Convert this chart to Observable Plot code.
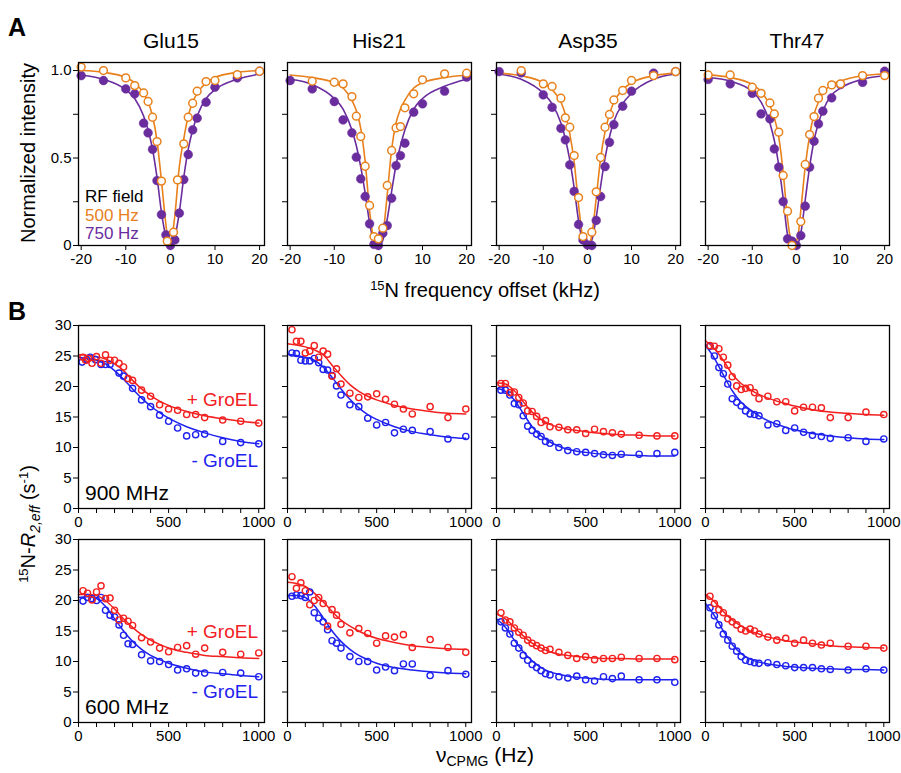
<!DOCTYPE html>
<html><head><meta charset="utf-8">
<script src="https://cdn.jsdelivr.net/npm/d3@7"></script>
<script src="https://cdn.jsdelivr.net/npm/@observablehq/plot@0.6"></script>
<style>
body{margin:0;background:#fff;}
#root{position:relative;width:901px;height:773px;overflow:hidden;background:#fff;font-family:"Liberation Sans",Arial,Helvetica,sans-serif;}
#root svg{overflow:visible;}
</style></head><body><div id="root"></div>
<script>
// ---------------- DATA ----------------
const residues = ["Glu15", "His21", "Asp35", "Thr47"];
const rfLabels = ["500 Hz", "750 Hz"];
const fieldLabels = ["900 MHz", "600 MHz"];
const cestTicks = [-20, -10, 0, 10, 20];
const intensityTicks = [0, 0.25, 0.5, 0.75, 1];
const cpmgTicks = [0,100,200,300,400,500,600,700,800,900,1000];
const r2Ticks = [0, 5, 10, 15, 20, 25, 30];

// Panel A: CEST profiles (offset kHz, normalized intensity)
const glu15_500_x = [-20,-15,-10,-8,-6,-5,-4,-3,-2,-0.7,0.7,1.6,3,4,5,6,8,10,15,20];
const glu15_500_y = [1.02,1.0,0.958,0.914,0.872,0.823,0.733,0.594,0.368,0.025,0.076,0.375,0.581,0.733,0.813,0.882,0.937,0.943,0.977,0.996];
const glu15_750_x = [-20,-15,-10,-8,-6,-5,-4,-3,-2,-1,0,1,2,3,4,5,6,8,10,15,20];
const glu15_750_y = [0.971,0.943,0.895,0.867,0.699,0.644,0.55,0.371,0.177,0.061,0,0.032,0.185,0.377,0.52,0.661,0.728,0.819,0.905,0.958,0.996];
const his21_500_x = [-15,-10,-8,-6,-5,-4,-3,-2,-1,0,1,2,3,4,5,6,8,10,15,20];
const his21_500_y = [0.939,0.933,0.924,0.851,0.739,0.623,0.453,0.229,0.051,0.038,0.099,0.343,0.543,0.672,0.68,0.787,0.867,0.947,0.981,0.985];
const his21_750_x = [-20,-15,-10,-8,-6,-5,-4,-3,-2,-1,0,1,2,3,4,5,6,8,10,15,20];
const his21_750_y = [0.943,0.895,0.823,0.718,0.644,0.505,0.381,0.28,0.124,0.006,0,0.07,0.114,0.27,0.457,0.514,0.585,0.762,0.81,0.882,0.962];
const asp35_500_x = [-15,-10,-8,-6,-5,-4,-3,-2,-1,1,2,3,4,5,6,8,10,15,20];
const asp35_500_y = [1.0,0.924,0.909,0.842,0.73,0.676,0.514,0.274,0.051,0.076,0.307,0.503,0.676,0.749,0.832,0.886,0.943,0.971,0.994];
const asp35_750_x = [-20,-15,-10,-8,-6,-5,-4,-3,-2,-1,0,1,2,3,4,5,6,8,10,15,20];
const asp35_750_y = [0.994,0.987,0.861,0.79,0.67,0.604,0.461,0.309,0.12,0.032,0.004,0,0.143,0.28,0.451,0.59,0.691,0.796,0.882,0.985,0.994];
const thr47_500_x = [-20,-15,-10,-8,-6,-5,-4,-3,-2,-1,1,2,3,4,5,6,8,10,15,20];
const thr47_500_y = [0.975,0.975,0.905,0.87,0.815,0.752,0.648,0.4,0.196,0,0.137,0.463,0.634,0.737,0.842,0.886,0.918,0.924,0.971,0.971];
const thr47_750_x = [-20,-15,-10,-8,-6,-5,-4,-3,-2,-1,0,1,2,3,4,5,6,8,10,15,20];
const thr47_750_y = [0.949,0.924,0.87,0.752,0.724,0.552,0.448,0.251,0.038,0.025,0,0.057,0.225,0.448,0.596,0.695,0.768,0.844,0.92,0.933,0.996];

// fitted curves, read at these offsets
const cestFitX = [-20,-15,-10,-8,-6,-5,-4,-3,-2,-1,-0.5,0,0.5,1,2,3,4,5,6,8,10,15,20];
const glu15_500_fit = [1.0,0.99,0.96,0.93,0.87,0.82,0.74,0.6,0.37,0.12,0.03,0.02,0.07,0.17,0.45,0.61,0.74,0.82,0.87,0.93,0.96,0.99,1.0];
const glu15_750_fit = [0.975,0.95,0.89,0.84,0.74,0.66,0.55,0.39,0.19,0.05,0.015,0,0.015,0.05,0.19,0.39,0.55,0.66,0.74,0.84,0.89,0.95,0.98];
const his21_500_fit = [0.975,0.96,0.93,0.9,0.83,0.77,0.67,0.48,0.2,0.03,0.01,0,0.02,0.06,0.29,0.55,0.7,0.78,0.83,0.9,0.93,0.96,0.975];
const his21_750_fit = [0.95,0.92,0.84,0.78,0.66,0.57,0.45,0.3,0.13,0.02,0.005,0,0.005,0.03,0.15,0.31,0.46,0.57,0.66,0.78,0.84,0.91,0.95];
const asp35_500_fit = [0.985,0.97,0.93,0.89,0.82,0.75,0.64,0.48,0.23,0.04,0.01,0,0.01,0.06,0.27,0.5,0.65,0.75,0.82,0.89,0.93,0.97,0.985];
const asp35_750_fit = [0.98,0.95,0.87,0.81,0.7,0.61,0.49,0.33,0.14,0.02,0.005,0,0.005,0.03,0.16,0.34,0.5,0.62,0.71,0.81,0.87,0.95,0.98];
const thr47_500_fit = [0.975,0.96,0.92,0.88,0.8,0.73,0.62,0.42,0.15,0.01,0,0.02,0.08,0.2,0.45,0.63,0.75,0.82,0.87,0.92,0.94,0.97,0.98];
const thr47_750_fit = [0.96,0.94,0.88,0.82,0.7,0.6,0.46,0.27,0.06,0,0,0,0.02,0.07,0.26,0.45,0.6,0.7,0.77,0.86,0.9,0.95,0.97];

// Panel B: CPMG dispersion (nu_CPMG Hz, R2,eff s^-1)
const cpmgX = [25,50,75,100,125,150,175,200,225,250,275,300,350,400,450,500,550,600,650,700,800,900,1000];
const glu15_900_plus_x = [25,40,55,75,100,125,150,175,200,225,250,275,300,350,400,450,500,550,600,650,700,800,900,1000];
const glu15_900_plus = [24.8,24.3,24.6,23.8,24.9,23.8,25.2,24.3,24.3,23.8,23.2,21.3,21.0,19.4,18.4,17.0,16.3,16.1,15.4,15.4,14.9,14.5,14.3,14.0];
const glu15_900_minus_x = [20,45,65,95,125,150,175,225,250,300,350,400,450,500,550,600,650,700,800,900,1000];
const glu15_900_minus = [24.0,24.4,24.8,24.4,23.6,23.6,23.6,22.2,21.7,19.7,17.8,16.7,15.3,14.3,13.2,11.9,12.1,12.2,11.0,10.8,10.6];
const his21_900_plus = [29.3,27.4,27.4,25.5,25.8,26.7,24.8,25.8,25.3,21.7,22.9,20.4,18.9,18.2,18.3,18.8,17.9,17.1,16.3,15.5,16.7,14.9,16.3];
const his21_900_minus = [25.5,25.4,24.3,24.2,24.2,24.6,23.9,22.8,22.7,21.8,20.1,18.6,17.0,16.7,14.8,13.7,14.1,12.4,13.0,12.8,12.6,11.4,11.8];
const asp35_900_plus = [20.5,20.5,19.0,19.1,18.2,17.3,16.0,15.9,15.1,14.1,14.4,13.4,13.3,12.9,12.9,12.3,13.0,12.6,12.4,12.2,12.0,11.9,11.9];
const asp35_900_minus = [19.4,19.4,18.6,17.2,17.0,15.2,13.5,12.8,12.2,11.8,11.0,10.7,10.0,9.5,9.3,9.2,9.0,8.8,8.7,8.9,8.9,9.0,9.2];
const thr47_900_plus = [26.7,26.6,26.2,24.8,23.5,21.6,20.1,19.5,19.7,19.8,19.0,18.0,18.4,17.5,17.5,16.0,16.6,16.6,16.5,14.9,14.9,15.8,15.4];
const thr47_900_minus = [26.6,25.0,23.1,22.1,20.4,18.0,17.4,16.8,16.0,15.5,15.4,15.2,13.7,13.9,12.8,13.2,12.5,12.0,11.8,11.5,11.6,11.0,11.4];
const glu15_600_plus = [21.6,21.2,20.1,21.4,22.4,20.3,20.4,18.4,16.8,17.1,16.6,15.9,13.9,13.2,12.2,11.6,12.3,12.6,11.2,12.2,11.5,11.2,11.4];
const glu15_600_minus = [19.9,20.5,20.3,20.0,20.5,18.4,17.6,17.3,16.0,14.3,12.9,12.8,11.1,10.1,10.0,9.5,8.6,8.8,8.1,8.1,8.2,8.1,7.5];
const his21_600_plus = [23.9,22.0,22.9,21.6,19.3,20.0,20.5,19.5,15.8,18.5,17.6,16.1,14.7,15.4,14.6,13.0,14.2,14.0,14.4,12.3,13.6,12.3,11.5];
const his21_600_minus = [20.7,20.9,20.8,20.5,21.4,18.0,17.1,16.5,15.2,13.4,13.0,12.2,10.8,10.0,10.0,8.6,9.1,8.5,9.6,9.6,7.7,8.5,7.9];
const asp35_600_plus = [18.0,16.8,16.5,15.5,14.8,14.3,13.5,13.0,12.6,12.2,11.8,12.0,11.5,11.0,10.5,10.8,10.3,10.5,10.5,10.7,10.5,10.5,10.3];
const asp35_600_minus = [16.5,15.5,14.5,13.0,12.2,11.0,10.2,9.5,9.0,8.5,8.0,7.8,7.5,7.3,7.6,7.0,6.8,7.5,7.2,7.6,7.0,7.0,6.6];
const thr47_600_plus = [20.7,19.5,18.5,18.0,17.0,16.5,16.0,15.3,15.0,15.3,15.0,14.5,14.0,13.5,13.8,13.0,13.5,13.0,12.7,13.0,12.5,12.5,12.2];
const thr47_600_minus = [18.8,17.5,16.0,14.5,13.5,12.5,11.7,10.8,10.2,10.0,9.8,9.7,9.8,9.5,9.3,9.0,9.0,9.0,8.8,8.7,8.6,8.8,8.6];

// fitted curves, read at these frequencies
const cpmgFitX = [0,50,100,150,200,250,300,350,400,450,500,600,700,800,900,1000];
const glu15_900_plus_fit = [25.2,25.1,24.9,24.5,23.7,22.6,21.0,19.6,18.5,17.6,16.9,15.9,15.2,14.7,14.3,14.0];
const glu15_900_minus_fit = [24.8,24.6,24.3,23.7,22.6,21.2,19.6,18.1,16.8,15.7,14.8,13.4,12.4,11.6,11.0,10.6];
const his21_900_plus_fit = [27.0,26.8,26.5,26.0,25.2,23.5,21.8,20.3,19.2,18.4,17.8,16.9,16.3,15.9,15.6,15.5];
const his21_900_minus_fit = [25.3,25.1,24.8,24.3,23.2,21.5,19.6,17.9,16.5,15.4,14.6,13.4,12.6,12.1,11.7,11.5];
const asp35_900_plus_fit = [20.6,20.4,19.3,17.5,15.8,14.6,13.8,13.3,13.0,12.8,12.6,12.3,12.1,12.0,11.9,11.9];
const asp35_900_minus_fit = [19.7,19.2,17.8,15.6,13.4,11.9,10.9,10.2,9.7,9.4,9.2,8.9,8.8,8.7,8.6,8.6];
const thr47_900_plus_fit = [27.5,26.2,24.3,22.0,20.5,19.5,18.7,18.1,17.6,17.2,16.8,16.2,15.8,15.6,15.4,15.3];
const thr47_900_minus_fit = [26.8,24.6,21.9,19.3,17.4,16.2,15.2,14.4,13.8,13.3,12.9,12.3,11.9,11.6,11.4,11.3];
const glu15_600_plus_fit = [21.0,21.0,20.8,20.0,18.6,17.0,15.6,14.4,13.5,12.8,12.2,11.5,11.0,10.8,10.6,10.5];
const glu15_600_minus_fit = [20.5,20.6,20.3,19.0,17.0,15.0,13.3,12.0,11.0,10.3,9.7,8.9,8.3,8.0,7.7,7.5];
const his21_600_plus_fit = [23.0,22.8,22.3,21.2,19.8,18.2,16.8,15.8,15.0,14.3,13.8,13.1,12.6,12.3,12.1,12.0];
const his21_600_minus_fit = [20.8,20.8,20.5,19.2,17.2,15.0,13.3,12.0,11.0,10.3,9.7,9.0,8.6,8.3,8.1,8.0];
const asp35_600_plus_fit = [17.8,17.0,15.6,14.2,13.0,12.2,11.6,11.2,11.0,10.8,10.7,10.5,10.5,10.4,10.4,10.4];
const asp35_600_minus_fit = [17.0,15.6,13.5,11.6,10.1,9.0,8.3,7.9,7.6,7.4,7.3,7.1,7.0,7.0,7.0,7.0];
const thr47_600_plus_fit = [21.0,19.8,18.2,16.8,15.8,15.0,14.5,14.0,13.7,13.4,13.2,12.9,12.6,12.4,12.3,12.2];
const thr47_600_minus_fit = [19.5,17.5,15.0,12.8,11.3,10.4,9.9,9.6,9.4,9.2,9.1,8.9,8.8,8.7,8.7,8.6];

// ---------------- STYLE / LAYOUT ----------------
const ORANGE = "#E8801C", PURPLE = "#6A2D9E", RED = "#F2201F", BLUE = "#1F22EE";
const FONT = '"Liberation Sans", Arial, Helvetica, sans-serif';
const cols = [[78, 264], [287, 471], [496, 680], [705, 889]];
const rowA = [62, 245], rowB1 = [325, 508], rowB2 = [539, 722];
// label heights (in panel fraction from bottom) for "+ GroEL" / "- GroEL"
const groelLabelPos = [[0.597, 0.263], [0.497, 0.170]];
const root = document.getElementById("root");

const rows = (xs, ys) => xs.map((x, i) => ({x, y: ys[i]}));

function panel({col, row, xDomain, yDomain, xTicks, xFmt, yTicks, yFmt, marks}) {
  const [l, r] = cols[col], [t, b] = row;
  const mL = 40, mR = 6, mT = 6, mB = 26;
  const chart = Plot.plot({
    width: r - l + mL + mR, height: b - t + mT + mB,
    marginLeft: mL, marginRight: mR, marginTop: mT, marginBottom: mB,
    x: {domain: xDomain, label: null},
    y: {domain: yDomain, label: null},
    style: {fontFamily: FONT, fontSize: "15px", color: "#000", background: "transparent", overflow: "visible"},
    marks: [
      Plot.axisX(xTicks, {tickSize: 5, tickPadding: 3, tickFormat: xFmt, label: null, fontSize: 15}),
      Plot.axisY(yTicks, {tickSize: 5, tickPadding: 2, tickFormat: yFmt, label: null, fontSize: 15}),
      ...marks,
      Plot.frame({stroke: "#000", strokeWidth: 1.3})
    ]
  });
  chart.style.position = "absolute";
  chart.style.left = (l - mL) + "px";
  chart.style.top = (t - mT) + "px";
  root.appendChild(chart);
}

const cestSets = [
  [glu15_500_x, glu15_500_y, glu15_750_x, glu15_750_y, glu15_500_fit, glu15_750_fit],
  [his21_500_x, his21_500_y, his21_750_x, his21_750_y, his21_500_fit, his21_750_fit],
  [asp35_500_x, asp35_500_y, asp35_750_x, asp35_750_y, asp35_500_fit, asp35_750_fit],
  [thr47_500_x, thr47_500_y, thr47_750_x, thr47_750_y, thr47_500_fit, thr47_750_fit]
];
cestSets.forEach(([ox, oy, px, py, of, pf], i) => {
  panel({
    col: i, row: rowA, xDomain: [-20.6, 21.1], yDomain: [0, 1.046],
    xTicks: cestTicks, xFmt: d => String(d),
    yTicks: intensityTicks,
    yFmt: i === 0 ? (d => d === 1 ? "1.0" : d === 0.5 ? "0.5" : d === 0 ? "0" : "") : (() => ""),
    marks: [
      Plot.line(rows(cestFitX, pf), {x: "x", y: "y", stroke: PURPLE, strokeWidth: 1.6, curve: "monotone-x"}),
      Plot.line(rows(cestFitX, of), {x: "x", y: "y", stroke: ORANGE, strokeWidth: 1.6, curve: "monotone-x"}),
      Plot.dot(rows(px, py), {x: "x", y: "y", r: 4.4, fill: PURPLE, stroke: PURPLE, strokeWidth: 0.5}),
      Plot.dot(rows(ox, oy), {x: "x", y: "y", r: 3.9, fill: "white", stroke: ORANGE, strokeWidth: 1.5})
    ]
  });
});

const cpmgSets = [
  [rowB1, glu15_900_plus_x, glu15_900_plus, glu15_900_minus_x, glu15_900_minus, glu15_900_plus_fit, glu15_900_minus_fit],
  [rowB1, cpmgX, his21_900_plus, cpmgX, his21_900_minus, his21_900_plus_fit, his21_900_minus_fit],
  [rowB1, cpmgX, asp35_900_plus, cpmgX, asp35_900_minus, asp35_900_plus_fit, asp35_900_minus_fit],
  [rowB1, cpmgX, thr47_900_plus, cpmgX, thr47_900_minus, thr47_900_plus_fit, thr47_900_minus_fit],
  [rowB2, cpmgX, glu15_600_plus, cpmgX, glu15_600_minus, glu15_600_plus_fit, glu15_600_minus_fit],
  [rowB2, cpmgX, his21_600_plus, cpmgX, his21_600_minus, his21_600_plus_fit, his21_600_minus_fit],
  [rowB2, cpmgX, asp35_600_plus, cpmgX, asp35_600_minus, asp35_600_plus_fit, asp35_600_minus_fit],
  [rowB2, cpmgX, thr47_600_plus, cpmgX, thr47_600_minus, thr47_600_plus_fit, thr47_600_minus_fit]
];
cpmgSets.forEach(([row, ax, ay, bx, by, af, bf], k) => {
  const i = k % 4;
  panel({
    col: i, row, xDomain: [0, 1032], yDomain: [0, 30],
    xTicks: cpmgTicks, xFmt: d => (d % 500 === 0 ? String(d) : ""),
    yTicks: r2Ticks, yFmt: i === 0 ? (d => String(d)) : (() => ""),
    marks: [
      Plot.line(rows(cpmgFitX, bf), {x: "x", y: "y", stroke: BLUE, strokeWidth: 1.5, curve: "monotone-x"}),
      Plot.line(rows(cpmgFitX, af), {x: "x", y: "y", stroke: RED, strokeWidth: 1.5, curve: "monotone-x"}),
      Plot.dot(rows(bx, by), {x: "x", y: "y", r: 3.1, fill: "none", stroke: BLUE, strokeWidth: 1.4}),
      Plot.dot(rows(ax, ay), {x: "x", y: "y", r: 3.1, fill: "none", stroke: RED, strokeWidth: 1.4})
    ]
  });
});

// ---------------- TEXT OVERLAY ----------------
const svg = d3.select(root).append("svg")
  .attr("width", 901).attr("height", 773)
  .style("position", "absolute").style("left", 0).style("top", 0)
  .style("pointer-events", "none")
  .attr("font-family", FONT);

function txt(x, y, s, o = {}) {
  return svg.append("text").attr("x", x).attr("y", y)
    .attr("font-size", o.size || 18).attr("fill", o.color || "#000")
    .attr("font-weight", o.weight || "normal")
    .attr("text-anchor", o.anchor || "start").text(s);
}
txt(8, 36, "A", {size: 25, weight: "bold"});
txt(8, 320, "B", {size: 25, weight: "bold"});
residues.forEach((name, i) => txt((cols[i][0] + cols[i][1]) / 2, 48, name, {size: 21, anchor: "middle"}));

// legend
txt(85, 202, "RF field", {size: 17});
txt(85, 221, rfLabels[0], {size: 17, color: ORANGE});
txt(85, 239, rfLabels[1], {size: 17, color: PURPLE});

// A axis titles
svg.append("text").attr("transform", "translate(35,153) rotate(-90)")
  .attr("text-anchor", "middle").attr("font-size", 20).text("Normalized intensity");
{
  const t = svg.append("text").attr("x", 485).attr("y", 297).attr("text-anchor", "middle").attr("font-size", 20);
  t.append("tspan").attr("font-size", 13).attr("dy", -7).text("15");
  t.append("tspan").attr("dy", 7).text("N frequency offset (kHz)");
}
// B annotations
[rowB1, rowB2].forEach((row, j) => {
  const [t, b] = row, h = b - t;
  txt(85, b - 8, fieldLabels[j], {size: 21});
  txt(258, b - groelLabelPos[j][0] * h + 7, "+ GroEL", {size: 19, color: RED, anchor: "end"});
  txt(258, b - groelLabelPos[j][1] * h + 7, "- GroEL", {size: 19, color: BLUE, anchor: "end"});
});

// B axis titles
{
  const t = svg.append("text").attr("transform", "translate(35,524) rotate(-90)")
    .attr("text-anchor", "middle").attr("font-size", 20);
  t.append("tspan").attr("font-size", 13).attr("dy", -7).text("15");
  t.append("tspan").attr("dy", 7).text("N-");
  t.append("tspan").attr("font-style", "italic").text("R");
  t.append("tspan").attr("font-style", "italic").attr("font-size", 14).attr("dy", 5).text("2,eff");
  t.append("tspan").attr("dy", -5).text(" (s");
  t.append("tspan").attr("font-size", 13).attr("dy", -7).text("-1");
  t.append("tspan").attr("dy", 7).text(")");
}
{
  const t = svg.append("text").attr("x", 485).attr("y", 762).attr("text-anchor", "middle").attr("font-size", 21);
  t.append("tspan").text("ν");
  t.append("tspan").attr("font-size", 14).attr("dy", 4).text("CPMG");
  t.append("tspan").attr("dy", -4).text(" (Hz)");
}
</script></body></html>
